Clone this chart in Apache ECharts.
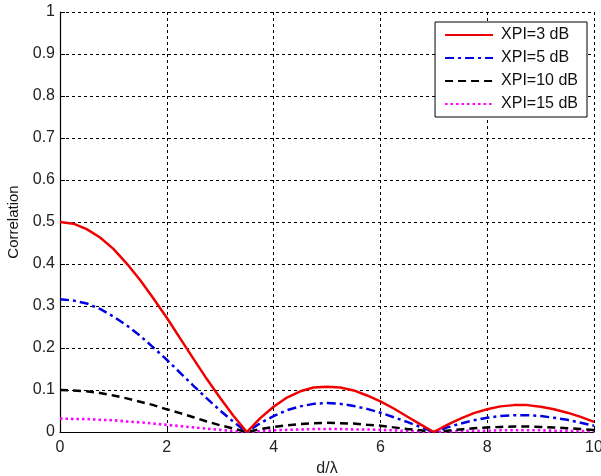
<!DOCTYPE html>
<html>
<head>
<meta charset="utf-8">
<script src="https://cdn.jsdelivr.net/npm/echarts@6/dist/echarts.min.js"></script>
<style>
  html, body { margin: 0; padding: 0; background: #fff; }
  #chart { width: 601px; height: 476px; }
</style>
</head>
<body>
<div id="chart"></div>
<script>
// Antenna spacing d/λ, sampled every 0.25
const spacing = [0, 0.25, 0.5, 0.75, 1, 1.25, 1.5, 1.75, 2, 2.25, 2.5, 2.75, 3, 3.25, 3.5,
  3.75, 4, 4.25, 4.5, 4.75, 5, 5.25, 5.5, 5.75, 6, 6.25, 6.5, 6.75, 7,
  7.25, 7.5, 7.75, 8, 8.25, 8.5, 8.75, 9, 9.25, 9.5, 9.75, 10];

// Correlation for each cross-polar isolation level
const xpi3 = [0.500, 0.496, 0.483, 0.463, 0.436, 0.401, 0.362, 0.318, 0.272, 0.223, 0.174, 0.126, 0.081, 0.038, 0,
  0.033, 0.060, 0.082, 0.097, 0.106, 0.108, 0.106, 0.099, 0.087, 0.073, 0.056, 0.037, 0.018, 0,
  0.017, 0.032, 0.045, 0.054, 0.061, 0.064, 0.064, 0.060, 0.054, 0.046, 0.036, 0.024];
const xpi5 = [0.316, 0.313, 0.306, 0.293, 0.275, 0.254, 0.229, 0.201, 0.172, 0.141, 0.110, 0.080, 0.051, 0.024, 0,
  0.021, 0.038, 0.052, 0.061, 0.067, 0.069, 0.067, 0.062, 0.055, 0.046, 0.035, 0.024, 0.012, 0,
  0.011, 0.020, 0.028, 0.034, 0.038, 0.040, 0.040, 0.038, 0.034, 0.029, 0.022, 0.015];
const xpi10 = [0.100, 0.099, 0.097, 0.093, 0.087, 0.080, 0.072, 0.064, 0.054, 0.045, 0.035, 0.025, 0.016, 0.008, 0,
  0.007, 0.012, 0.016, 0.019, 0.021, 0.022, 0.021, 0.020, 0.017, 0.015, 0.011, 0.007, 0.004, 0,
  0.003, 0.006, 0.009, 0.011, 0.012, 0.013, 0.013, 0.012, 0.011, 0.009, 0.007, 0.005];
const xpi15 = [0.032, 0.031, 0.031, 0.029, 0.028, 0.025, 0.023, 0.020, 0.017, 0.014, 0.011, 0.008, 0.005, 0.002, 0,
  0.002, 0.004, 0.005, 0.006, 0.007, 0.007, 0.007, 0.006, 0.006, 0.005, 0.004, 0.002, 0.001, 0,
  0.001, 0.002, 0.003, 0.003, 0.004, 0.004, 0.004, 0.004, 0.003, 0.003, 0.002, 0.002];

const seriesNames = ['XPI=3 dB', 'XPI=5 dB', 'XPI=10 dB', 'XPI=15 dB'];
const seriesData = [xpi3, xpi5, xpi10, xpi15];
const seriesStyles = [
  { color: '#f00000', width: 2.5, type: 'solid' },
  { color: '#0000e0', width: 2.5, type: [9, 4, 3, 4] },
  { color: '#000000', width: 2.5, type: [8, 5] },
  { color: '#ff00ff', width: 2.6, type: [2.5, 3] }
];

const fontFamily = 'Liberation Sans, Arial, sans-serif';
const chart = echarts.init(document.getElementById('chart'), null, { renderer: 'canvas' });

chart.setOption({
  animation: false,
  backgroundColor: '#ffffff',
  grid: { left: 60, right: 7, top: 12, bottom: 44, containLabel: false, outerBoundsMode: 'none' },
  legend: {
    orient: 'vertical',
    right: 14,
    top: 22,
    padding: [5, 9, 5, 9],
    itemGap: 7,
    itemWidth: 48,
    itemHeight: 16,
    backgroundColor: '#ffffff',
    borderColor: '#000000',
    borderWidth: 1,
    borderRadius: 0,
    itemStyle: { opacity: 0 },
    textStyle: { fontFamily, fontSize: 16, color: '#111', padding: [0, 0, 0, 3] },
    data: seriesNames
  },
  xAxis: {
    type: 'value',
    min: 0, max: 10, interval: 2,
    name: 'd/λ',
    nameLocation: 'middle',
    nameGap: 27,
    nameTextStyle: { fontFamily, fontSize: 16, color: '#222' },
    axisLine: { show: true, onZero: false, lineStyle: { color: '#000', width: 1.2 } },
    axisTick: { show: true, inside: true, length: 5, lineStyle: { color: '#000' } },
    axisLabel: { fontFamily, fontSize: 16, color: '#222', margin: 8 },
    splitLine: { show: true, lineStyle: { color: '#000', width: 1, type: [3, 3] } }
  },
  yAxis: {
    type: 'value',
    min: 0, max: 1, interval: 0.1,
    name: 'Correlation',
    nameLocation: 'middle',
    nameGap: 33,
    nameTextStyle: { fontFamily, fontSize: 15, color: '#111' },
    axisLine: { show: true, onZero: false, lineStyle: { color: '#000', width: 1.2 } },
    axisTick: { show: true, inside: true, length: 5, lineStyle: { color: '#000' } },
    axisLabel: {
      fontFamily, fontSize: 16, color: '#222', margin: 5,
      formatter: v => String(Math.round(v * 10) / 10)
    },
    splitLine: { show: true, lineStyle: { color: '#000', width: 1, type: [3, 3] } }
  },
  series: seriesNames.map((name, i) => ({
    name,
    type: 'line',
    showSymbol: false,
    symbol: 'none',
    smooth: false,
    z: 10 - i,
    color: seriesStyles[i].color,
    lineStyle: {
      color: seriesStyles[i].color,
      width: seriesStyles[i].width,
      type: seriesStyles[i].type
    },
    data: spacing.map((x, k) => [x, seriesData[i][k]])
  }))
});
</script>
</body>
</html>
